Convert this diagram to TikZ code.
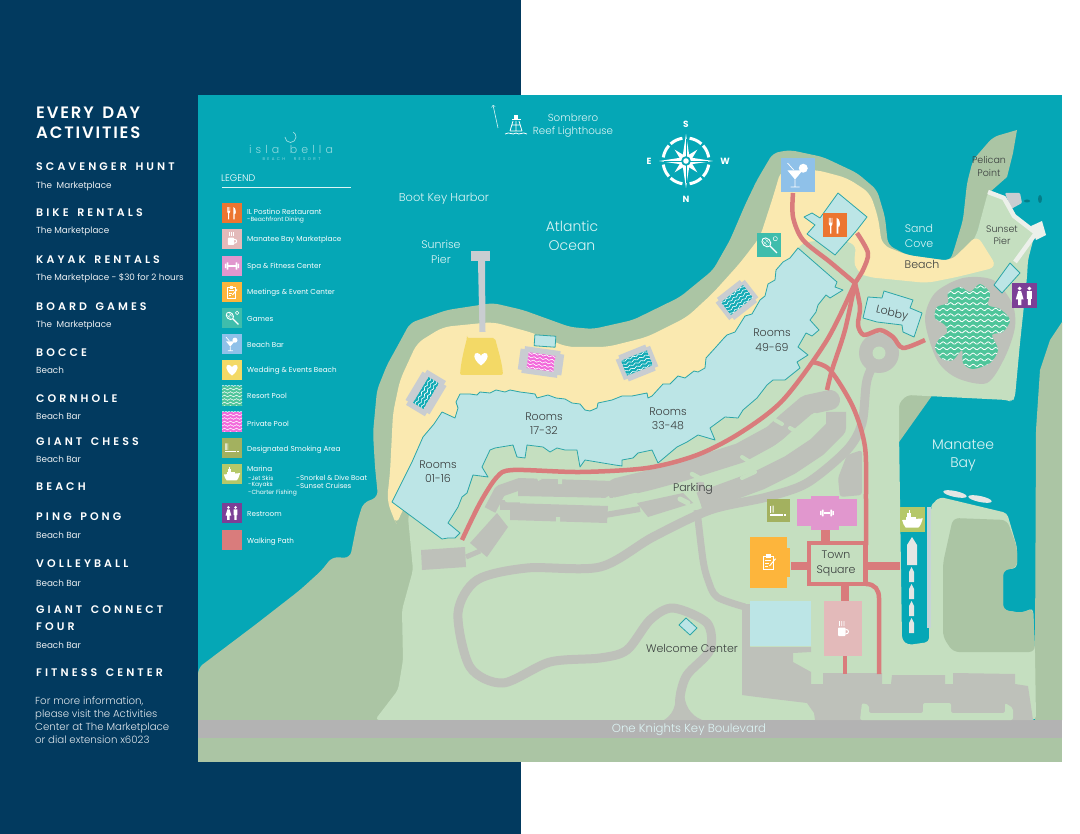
\documentclass[tikz,border=0pt]{standalone}
\usepackage{fontspec}
\setmainfont{Poppins}
\newfontfamily\lightfont{Poppins Light}
\newfontfamily\boldhead[LetterSpace=28,WordSpace=1.5]{Poppins SemiBold}
\newfontfamily\titlehead[LetterSpace=11,WordSpace=1.5]{Poppins SemiBold}
\newfontfamily\logofont[LetterSpace=37,WordSpace=1.5]{Poppins Light}
\newfontfamily\logosubfont[LetterSpace=60,WordSpace=2.5]{Poppins}
\definecolor{navy}{HTML}{023A5F}
\definecolor{water}{HTML}{05A7B6}
\definecolor{darkland}{HTML}{ABC5A4}
\definecolor{lightland}{HTML}{C5DFC0}
\definecolor{sand}{HTML}{FAE9B0}
\definecolor{roof}{HTML}{BCE5E6}
\definecolor{roofline}{HTML}{2CA6A8}
\definecolor{walkway}{HTML}{D97C7C}
\definecolor{asphalt}{HTML}{BEC1BA}
\definecolor{boulevard}{HTML}{B3B3B3}
\definecolor{labeldark}{HTML}{3A3E3E}
\definecolor{labelwater}{HTML}{DDF5F5}
\definecolor{restorange}{HTML}{EC7530}
\definecolor{cafepink}{HTML}{E3BABA}
\definecolor{spapink}{HTML}{E197CE}
\definecolor{meetgold}{HTML}{FDB53C}
\definecolor{gamesteal}{HTML}{3FBDAC}
\definecolor{barblue}{HTML}{8FC1E9}
\definecolor{beachyellow}{HTML}{F3D966}
\definecolor{poolgreen}{HTML}{4FC59A}
\definecolor{poolpink}{HTML}{F26ADB}
\definecolor{poolteal}{HTML}{12ABB5}
\definecolor{smokeolive}{HTML}{A3B15F}
\definecolor{marinaolive}{HTML}{B5C869}
\definecolor{restpurple}{HTML}{7C3F96}
\definecolor{pier}{HTML}{C9CDD1}
\definecolor{pierwhite}{HTML}{ECF0EA}
\definecolor{boatgrey}{HTML}{E4E6E4}
\tikzset{
	maplabel/.style={font=\lightfont\fontsize{11}{14.5}\selectfont,text=labeldark,align=center,inner sep=0pt},
	sealabel/.style={font=\lightfont\fontsize{11}{15}\selectfont,text=labelwater,align=center,inner sep=0pt},
	biglabel/.style={font=\lightfont\fontsize{14}{18.5}\selectfont,text=labelwater,align=center,inner sep=0pt},
	legendtext/.style={font=\fontsize{7.2}{8}\selectfont,text=white,anchor=west,inner sep=0pt},
	legendsub/.style={font=\fontsize{6}{7}\selectfont,text=white,anchor=west,inner sep=0pt},
	acthead/.style={font=\boldhead\fontsize{11}{17}\selectfont,text=white,anchor=west,inner sep=0pt},
	actsub/.style={font=\fontsize{8.8}{10}\selectfont,text=white!92!navy,anchor=west,inner sep=0pt},
	compasslabel/.style={font=\bfseries\fontsize{9}{10}\selectfont,text=white,inner sep=0pt},
	iconbox/.style={minimum size=20pt,inner sep=0pt,outer sep=0pt},
	bigbox/.style={minimum size=34pt,inner sep=0pt,outer sep=0pt},
	midbox/.style={minimum size=24pt,inner sep=0pt,outer sep=0pt},
	building/.style={fill=roof,draw=roofline,line width=0.8pt,line join=round},
	walkline/.style={draw=walkway,line width=4.5pt,line join=round},
	road/.style={draw=asphalt,line width=9pt,line join=round},
	forkicon/.pic={
		\fill[white] (-5.5,-7) rectangle (-4.9,-2) (-4.2,-7) rectangle (-3.6,-2) (-2.9,-7) rectangle (-2.3,-2);
		\fill[white] (-5.5,-2.5) -- (-2.3,-2.5) -- (-2.3,-1) -- (-3.3,0.5) -- (-3.3,7.5) -- (-4.5,7.5) -- (-4.5,0.5) -- (-5.5,-1) -- cycle;
		\fill[white] (1.5,-7) .. controls (4.5,-6) and (5,-1) .. (4,1) -- (3,1) -- (3,7.5) -- (1.5,7.5) -- cycle;
	},
	cupicon/.pic={
		\fill[white,rounded corners=0.8] (-5,-1.5) rectangle (2.5,7);
		\draw[white,line width=1pt] (2.5,0.5) .. controls (6.5,0) and (6.5,5) .. (2.5,5);
		\foreach \xx in {-3.5,-1.2,1}
			\draw[white,line width=0.7pt] (\xx,-3) .. controls (\xx-1,-5) and (\xx+1,-6) .. (\xx,-8);
	},
	dumbbellicon/.pic={
		\fill[white,rounded corners=0.4] (-8,-2.5) rectangle (-6.6,2.5) (-6,-4) rectangle (-4,4) (4,-4) rectangle (6,4) (6.6,-2.5) rectangle (8,2.5);
		\fill[white] (-4,-0.8) rectangle (4,0.8);
	},
	clipboardicon/.pic={
		\draw[white,line width=0.7pt] (-5,-5) rectangle (4,7);
		\fill[white] (-2.5,-7) rectangle (1.5,-4);
		\draw[white,line width=0.5pt] (-3.5,-1.5) -- (2,-1.5) (-3.5,1) -- (0,1) (-3.5,3.5) -- (-1,3.5);
		\draw[white,line width=1pt] (0.5,3.5) -- (6,-3);
	},
	racketicon/.pic={
		\draw[white,line width=0.9pt,rotate around={-45:(-2.5,-2.5)}] (-2.5,-2.5) ellipse (4.8 and 3.7);
		\draw[white,line width=0.3pt] (-5.5,-3.5) -- (-1.5,0.5) (-3.5,-5.5) -- (0.5,-1.5) (-5,-0.5) -- (-0.5,-5);
		\draw[white,line width=1.1pt] (1,1) -- (7.5,7.5);
		\draw[white,line width=0.5pt] (6,-6) circle (2);
	},
	martiniicon/.pic={
		\fill[white] (-7,-3) -- (3,-3) -- (-2,3) -- cycle;
		\draw[white,line width=0.7pt] (-2,3) -- (-2,8) (-5,8) -- (1,8) (-7,-8) -- (-3,-3.5);
		\fill[white] (3.5,-4.5) circle (3);
	},
	hearticon/.pic={
		\fill[white] (0,6.5) .. controls (-9,0) and (-7.5,-7) .. (-3.5,-6) .. controls (-1.5,-5.5) and (0,-4) .. (0,-3) .. controls (0,-4) and (1.5,-5.5) .. (3.5,-6) .. controls (7.5,-7) and (9,0) .. (0,6.5);
	},
	smokeicon/.pic={
		\fill[white] (-8,3) rectangle (4.5,5);
		\fill[white] (5.5,3) rectangle (8,5);
		\foreach \xx in {-7.5,-6,-4.5}
			\draw[white,line width=0.5pt] (\xx,2) .. controls (\xx-1,0) and (\xx+1,-2) .. (\xx,-5);
	},
	shipicon/.pic={
		\fill[white] (-9,0.5) -- (9,-1) .. controls (8,2) and (7,6) .. (5,7) -- (-6,7) .. controls (-7.5,5) and (-8.5,3) .. (-9,0.5) -- cycle;
		\fill[white] (-6,-2.5) rectangle (3,1);
		\fill[white] (-4.5,-5.5) rectangle (-1,-2.5);
		\fill[white] (-3.2,-8) rectangle (-2.2,-5.5);
	},
	restroomicon/.pic={
		\fill[white] (-4.2,-6.5) circle (1.7) (4.2,-6.5) circle (1.7);
		\fill[white] (-5.5,-4.2) -- (-2.9,-4.2) -- (-0.8,3) -- (-2.8,3) -- (-2.8,8) -- (-5.6,8) -- (-5.6,3) -- (-7.6,3) -- cycle;
		\fill[white] (2,-4.2) rectangle (6.4,2.5) (2.9,2.5) rectangle (5.5,8);
	},
}
\newcommand{\wavefill}[6]{
	\begin{scope}[shift={(#1,#2)},rotate=#3]
		\clip (-#4/2,-#5/2) rectangle (#4/2,#5/2);
		\fill[#6] (-#4/2,-#5/2) rectangle (#4/2,#5/2);
		\foreach \yy in {-17.5,-14,...,17.5}
			\draw[white,line width=0.6pt] plot[smooth,domain=-24:24,samples=33] (\x,{\yy+0.8*sin(\x*60)});
	\end{scope}
}
\newcommand{\poolpad}[5]{
	\begin{scope}[shift={(#1,#2)},rotate=#3]
		\fill[color=pier] (-#4/2,-#5/2+3) rectangle (#4/2,#5/2-3);
		\fill[color=pier] (-#4/2+4,-#5/2) rectangle (#4/2-4,#5/2);
	\end{scope}
}
\begin{document}
\begin{tikzpicture}[x=1pt,y=-1pt]
	\useasboundingbox (0,0) rectangle (1080,834);
	\fill[color=white] (0,0) rectangle (1080,834);
	\fill[color=navy] (0,0) rectangle (521,834);
	\fill[color=water] (198,95) rectangle (1062,762);

	\fill[color=darkland,rounded corners=6pt] (198,722) -- (198,668) -- (255,625) -- (300,590) -- (322,570) -- (332,557) -- (350,558) -- (357,523) -- (363,503) -- (378,497) -- (375,467) -- (373,433) -- (377,390) -- (387,365) -- (397,347) -- (410,323) -- (447,310) -- (493,303) -- (523,310) -- (570,327) -- (593,329) -- (633,320) -- (680,297) -- (713,270) -- (730,240) -- (745,205) -- (757,180) -- (773,153) -- (790,150) -- (823,157) -- (857,173) -- (877,190) -- (885,217) -- (888,245) -- (907,255) -- (950,261) -- (953,253) -- (963,220) -- (967,183) -- (973,160) -- (993,137) [sharp corners] -- (1017,130) -- (1013,153) -- (1007,177) -- (990,192) -- (977,233) -- (1000,300) -- (700,722) -- cycle;
	\fill[color=darkland] (1062,322) -- (1050,340) -- (1040,370) -- (1036,430) -- (1035,652) -- (1035,720) -- (1062,720) -- cycle;
	\fill[color=lightland,rounded corners=4pt] (408,517) -- (413,570) -- (402,610) -- (403,660) -- (398,690) -- (375,720) -- (1036,720) -- (1035,652) -- (1033,608) -- (1022,613) -- (1003,610) -- (1003,570) -- (1017,568) -- (1017,547) -- (1007,513) -- (940,497) -- (933,503) -- (931,507) -- (929,642) -- (908,645) -- (902,640) -- (899,430) -- (899,403) -- (907,395) -- (1007,400) -- (1012,402) -- (1015,397) -- (1020,343) -- (1027,277) -- (1028,260) -- (1035,233) -- (1013,217) -- (1003,198) -- (988,192) -- (977,233) -- (962,262) -- (930,270) -- (880,265) -- (850,230) -- (795,230) -- (760,290) -- (690,370) -- (600,405) -- (480,405) -- (430,460) -- cycle;
	\fill[color=darkland,rounded corners=6pt] (953,518) -- (1007,520) -- (1017,547) -- (1017,568) -- (1003,570) -- (1003,610) -- (1022,613) -- (1033,608) -- (1035,652) -- (953,652) -- (943,637) -- (943,563) -- cycle;
	\fill[color=sand,rounded corners=8pt] (387,500) -- (390,473) -- (393,413) -- (400,380) -- (417,343) -- (443,327) -- (493,322) -- (533,333) -- (567,347) -- (607,347) -- (647,337) -- (687,317) -- (713,293) -- (740,263) -- (760,237) -- (773,197) -- (781,170) -- (817,170) -- (847,178) -- (870,193) -- (878,217) -- (882,245) -- (907,255) -- (950,261) -- (957,255) -- (977,235) -- (997,267) -- (957,277) -- (927,283) -- (897,280) -- (867,277) -- (857,272) -- (853,258) -- (858,246) -- (838,238) -- (800,243) -- (780,290) -- (700,380) -- (600,420) -- (480,420) -- (440,470) -- (402,510) -- (397,525) -- (393,517) -- cycle;

	\fill[color=boulevard] (198,720) rectangle (1062,738);
	\fill[color=darkland] (198,738) rectangle (1062,762);

	\fill[color=asphalt] plot[smooth cycle] coordinates {(925,320) (935,293) (963,278) (993,280) (1012,303) (1015,327) (1005,357) (987,383) (957,378) (937,360)};
	\begin{scope}
		\clip plot[smooth cycle] coordinates {(948,293) (960,287) (970,292) (980,284) (990,293) (988,305) (1000,309) (1010,320) (1003,332) (992,335) (998,350) (990,363) (973,369) (963,363) (962,350) (953,360) (942,359) (935,348) (940,338) (947,333) (945,325) (935,318) (937,307) (948,303)};
		\fill[color=poolgreen] (920,280) rectangle (1020,375);
		\foreach \yy in {287,292.6,...,370}
			\draw[white,line width=0.8pt] plot[smooth,domain=925:1015,samples=61] (\x,{\yy+1.2*sin((\x-900)*48)});
	\end{scope}

	\fill[color=asphalt] (879,353) circle (20);
	\path[road] plot[smooth] coordinates {(879,353) (867,380) (862,423) (847,450) (807,483) (767,497) (710,510) (653,537) (600,567) (527,568) (477,580) (458,613) (470,667) (503,683) (550,662) (600,658) (627,650) (650,620) (673,608) (707,623) (710,650) (687,675) (680,697) (680,718)};
	\fill[color=lightland] (879,353) circle (6.5);
	\fill[color=asphalt] (664,720) .. controls (677,712) and (675,700) .. (677,690) -- (684,690) .. controls (684,705) and (690,715) .. (702,720) -- cycle;
	\path[road,line width=7pt] plot[smooth] coordinates {(697,510) (703,560) (708,580) (717,597) (745,607)};

	\path[road,line width=20pt,line cap=round] (617,488) -- (650,480) -- (683,471) -- (740,453) -- (773,435) -- (787,422) -- (807,405) -- (830,400);
	\path[road,line width=20pt] (700,502) -- (760,480) -- (790,465) -- (817,447) -- (836,428) -- (836,412);
	\path[road,line width=7pt] (700,482) -- (707,515);
	\path[road,line width=12pt] (490,510) -- (500,491) -- (520,484);
	\path[road,line width=6pt] (605,515) -- (640,509);
	\fill[color=asphalt] (518,478) -- (613,481) -- (613,498) -- (518,496) -- cycle;
	\fill[color=asphalt] (510,503) -- (608,506) -- (607,523) -- (510,520) -- cycle;
	\fill[color=asphalt] (500,500) rectangle (520,510);
	\fill[color=asphalt] (637,503) -- (683,493) -- (693,503) -- (648,517) -- cycle;
	\fill[color=asphalt] (470,543) -- (497,513) -- (508,527) -- (487,557) -- cycle;
	\fill[color=asphalt] (421,550) -- (465,547) -- (466,567) -- (422,570) -- cycle;
	\path[road,line width=5pt] (466,557) -- (480,551);
	\fill[color=asphalt,rounded corners=3pt] (838,478) -- (840,497) -- (862,495) -- (862,450) -- (847,455) -- cycle;
	\draw[color=lightland,line width=4.5pt,line cap=round] (507,500) -- (610,501) -- (636,495);
	\draw[color=lightland,line width=4pt] (560,478) -- (560,484) (558,517) -- (558,524) (538,476) -- (540,480) (607,497) -- (611,504);
	\draw[color=lightland,line width=4.5pt,line cap=round,line join=round] (692,474) -- (703,480) -- (745,467) -- (763,457) -- (790,437) -- (815,415);
	\draw[color=lightland,line width=4pt,line cap=round] (790,428) -- (808,438) (742,457) -- (750,462) (775,420) -- (782,424) (742,478) -- (755,472);
	\draw[color=lightland,line width=5pt,line cap=round] (688,503) -- (680,499);

	\fill[color=asphalt] (742,604) -- (750,604) -- (750,647) -- (811,647) -- (811,652) -- (793,653) -- (793,662) -- (811,672) -- (811,684) -- (823,684) -- (823,673) -- (882,673) -- (882,684) -- (891,684) -- (892,675) -- (945,675) -- (945,684) -- (953,684) -- (953,673) -- (1015,674) -- (1015,684) -- (1028,686) -- (1033,720) -- (815,720) -- (814,713) -- (807,703) -- (757,697) -- (742,695) -- cycle;
	\fill[color=lightland,rounded corners=2pt] (860,720) -- (862,703) -- (869,705) -- (869,713) -- (923,713) -- (923,703) -- (951,703) -- (951,713) -- (1005,713) -- (1005,703) -- (1013,708) -- (1013,720) -- cycle;

	\fill[color=pier] (471,251) rectangle (490,261);
	\fill[color=pier] (478,261) -- (485,261) -- (485.5,332) -- (479.5,332) -- cycle;
	\fill[color=beachyellow,rounded corners=2pt] (467,338) -- (495,338) .. controls (498,350) and (502,362) .. (503,375) -- (460,375) .. controls (461,362) and (464,350) .. (467,338) -- cycle;
	\path (481,359) pic[scale=1] {hearticon};

	\poolpad{426}{393}{59}{41}{28}
	\wavefill{426}{393}{59}{30}{12}{poolteal}
	\poolpad{541}{362}{-8}{44}{27}
	\wavefill{541}{362}{-8}{27}{16}{poolpink}
	\poolpad{637}{363}{22}{37}{28}
	\wavefill{637}{363}{22}{28}{16}{poolteal}
	\poolpad{737}{300}{38}{37}{28}
	\wavefill{737}{300}{38}{28}{16}{poolteal}
	\draw[building,rotate around={-4:(545,341)}] (534.5,335.5) rectangle (555.5,346.5);

	\draw[building] (392,502) -- (400,486) -- (412,462) -- (423,437) -- (434,424) -- (442,412) -- (455,418) -- (458,408) -- (456,402) -- (460,394) -- (470,394) -- (477,395) -- (480,392) -- (490,393) -- (496,390) -- (505,392) -- (510,390) -- (520,392) -- (528,393) -- (535,394) -- (537,398) -- (548,395) -- (556,398) -- (565,399) -- (572,403) -- (580,404) -- (585,410) -- (590,411) -- (597,408) -- (598,403) -- (612,400) -- (622,396) -- (632,396) -- (647,393) -- (648,398) -- (652,396) -- (663,384) -- (670,384) -- (678,376) -- (685,378) -- (694,371) -- (698,372) -- (705,368) -- (706,358) -- (716,347) -- (724,338) -- (727,335) -- (735,332) -- (745,316) -- (752,314) -- (760,300) -- (765,296) -- (768,284) -- (775,280) -- (776,270) -- (783,262) -- (790,258) -- (798,248) -- (837,282) -- (835,287) -- (843,290) -- (830,298) -- (826,295) -- (818,305) -- (816,312) -- (810,320) -- (819,330) -- (812,336) -- (806,333) -- (798,347) -- (808,355) -- (797,362) -- (800,368) -- (785,380) -- (773,380) -- (767,385) -- (757,398) -- (743,410) -- (738,418) -- (725,417) -- (710,428) -- (715,440) -- (698,435) -- (687,442) -- (677,447) -- (658,463) -- (652,450) -- (638,453) -- (633,458) -- (622,460) -- (622,466) -- (615,465) -- (585,460) -- (580,467) -- (577,450) -- (565,450) -- (557,448) -- (550,452) -- (543,447) -- (527,445) -- (525,458) -- (517,457) -- (513,445) -- (495,448) -- (490,450) -- (482,467) -- (488,477) -- (473,475) -- (467,493) -- (462,497) -- (458,507) -- (448,523) -- (460,533) -- (455,538) -- (448,538) -- (442,539) -- cycle;
	\draw[building] (838,193) -- (867,217) -- (857,230) -- (835,255) -- (807,234) -- (815,225) -- (804,217) -- (812,213) -- (820,218) -- cycle;
	\draw[building] (863,318) -- (868,297) -- (882,298) -- (884,291) -- (913,300) -- (910,308) -- (922,313) -- (914,337) -- (903,332) -- (902,325) -- (877,322) -- cycle;
	\draw[building] (679,625) -- (686,618) -- (697,628) -- (690,635) -- cycle;

	\fill[color=pier,rounded corners=1pt] (1005,193) -- (1020,193) -- (1022,203) -- (1011,209) -- cycle;
	\draw[color=pierwhite,line width=4.5pt,line join=round] (988,192) -- (1004,198) -- (1014,216) -- (1036,233) -- (1015,262);
	\fill[color=pierwhite] (1031,226) -- (1042,221) -- (1046,235) -- (1036,240) -- cycle;
	\fill[color=water!75!black] (1027,201) ellipse (3 and 1.5) (1040,199) ellipse (2 and 4);
	\draw[building] (1010,263) -- (1020,273) -- (1002,293) -- (994,285) -- cycle;

	\path[walkline] plot[smooth] coordinates {(462,540) (480,503) (497,477) (513,470) (580,472) (647,468) (697,455) (740,433) (783,400) (827,340) (855,283)};
	\path[walkline] plot[smooth] coordinates {(793,193) (793,217) (803,240) (830,262) (855,283)};
	\path[walkline] plot[smooth] coordinates {(857,233) (868,253) (863,270) (855,283)};
	\path[walkline] plot[smooth] coordinates {(855,283) (845,330) (832,370) (827,390)};
	\path[walkline] plot[smooth] coordinates {(855,283) (860,307) (858,325) (864,335) (880,330) (893,337) (903,348) (925,340)};
	\path[walkline] plot[smooth] coordinates {(812,362) (830,370) (853,407) (865,447) (866,500) (866,545)};
	\fill[color=walkway] (791,562) rectangle (807,570);
	\fill[color=walkway] (867,562) rectangle (900,570);
	\fill[color=walkway] (821,530) rectangle (830,541);
	\fill[color=walkway] (841,586) rectangle (849,601);
	\fill[color=walkway] (843,656) rectangle (847,674);
	\draw[color=walkway,line width=4.5pt] (866,584) .. controls (875,584) and (879,590) .. (879,598) -- (879,674);
	\fill[color=walkway] (807,541) rectangle (868,586);
	\fill[color=lightland] (811,545) rectangle (863,582);

	\fill[color=spapink] (797,499) rectangle (857,526);
	\fill[color=spapink] (811,496) rectangle (839,530);
	\fill[color=meetgold] (750,537) rectangle (787,588);
	\fill[color=meetgold] (787,548) rectangle (790,577);
	\fill[color=cafepink] (824,601) rectangle (862,656);
	\fill[color=roof] (750,601) rectangle (811,646);

	\fill[color=pier!70!roof] (927,507) rectangle (931,628);
	\fill[color=boatgrey] (907,565) -- (907,545) -- (912,537) -- (917,545) -- (917,565) -- cycle;
	\foreach \yy in {567,584,601,618}
		\fill[color=boatgrey] (909,\yy+15) -- (909,\yy+5) -- (911.5,\yy) -- (914,\yy+5) -- (914,\yy+15) -- cycle;
	\fill[color=boatgrey,rotate around={-12:(955,494)}] (955,494) ellipse (12 and 3);
	\fill[color=boatgrey,rotate around={-12:(980,499)}] (980,499) ellipse (12 and 3);

	\path (798,175) node[bigbox,fill=barblue] (barsign) {};
	\path (barsign) pic[scale=1.5] {martiniicon};
	\path (835,225.5) node[midbox,fill=restorange] (postinosign) {};
	\path (postinosign) pic[scale=1.1] {forkicon};
	\path (769,245) node[midbox,fill=gamesteal] (gamessign) {};
	\path (gamessign) pic[scale=1.05] {racketicon};
	\path (1024.5,296) node[midbox,minimum size=25pt,fill=restpurple] (restroomsign) {};
	\path (restroomsign) pic[scale=1.15] {restroomicon};
	\path (778,510.5) node[iconbox,minimum size=23pt,fill=smokeolive] (smokesign) {};
	\path (smokesign) pic[scale=1] {smokeicon};
	\path (912.5,519.5) node[midbox,minimum size=25pt,fill=marinaolive] (marinasign) {};
	\path (marinasign) pic[scale=1.15] {shipicon};
	\path (827,513) pic[scale=0.85] {dumbbellicon};
	\path (769,562) pic[scale=1.1] {clipboardicon};
	\path (843,629) pic[scale=1] {cupicon};

	\path (444,199) node[sealabel,font=\lightfont\fontsize{11.4}{13}\selectfont] (bootkey) {Boot Key Harbor};
	\path (572,236) node[biglabel] (atlantic) {Atlantic\\Ocean};
	\path (441,252) node[sealabel] (sunrise) {Sunrise\\Pier};
	\path (573,125.5) node[sealabel,font=\lightfont\fontsize{10.3}{13.3}\selectfont] (sombrero) {Sombrero\\Reef Lighthouse};
	\path (919,235.5) node[sealabel] (sandcove) {Sand\\Cove};
	\path (963,455.5) node[biglabel] (manatee) {Manatee\\Bay};
	\path (689,730) node[sealabel,font=\lightfont\fontsize{11.7}{13}\selectfont] (boulevardname) {One Knights Key Boulevard};
	\path (922,264) node[maplabel] (beachname) {Beach};
	\path (989,166.5) node[maplabel,font=\lightfont\fontsize{9.5}{13}\selectfont] (pelican) {Pelican\\Point};
	\path (1002,235) node[maplabel,font=\lightfont\fontsize{9.5}{12.5}\selectfont] (sunset) {Sunset\\Pier};
	\path (892,314) node[maplabel,rotate=-13] (lobby) {Lobby};
	\path (772,340) node[maplabel] (rooms49) {Rooms\\49-69};
	\path (668,419) node[maplabel] (rooms33) {Rooms\\33-48};
	\path (544,423.5) node[maplabel] (rooms17) {Rooms\\17-32};
	\path (438,471.5) node[maplabel] (rooms01) {Rooms\\01-16};
	\path (693,489) node[maplabel] (parking) {Parking};
	\path (692,648) node[maplabel] (welcome) {Welcome Center};
	\path (836,563.5) node[maplabel] (townsquare) {Town\\Square};

	\coordinate (reefbase) at (498,128);
	\coordinate (reeftip) at (493,105);
	\draw[color=labelwater,line width=0.6pt,->] (reefbase) -- (reeftip);
	\begin{scope}[shift={(516,125)}]
		\fill[white] (-2,-10) rectangle (2,-6);
		\fill[white] (-4.5,-6) rectangle (4.5,-4.5);
		\draw[white,line width=0.8pt] (-3,-4) -- (-6,6) (3,-4) -- (6,6) (0,-4) -- (0,6) (-4,0) -- (4,0) (-6,6) -- (6,6);
		\draw[white,line width=0.8pt] (-11,9) .. controls (-6,6) and (-4,11) .. (0,8) .. controls (4,11) and (6,6) .. (11,9);
	\end{scope}

	\begin{scope}[shift={(686,161)}]
		\foreach \aa in {0,90,180,270}
			\draw[white,line width=3pt] (\aa+9:23) arc[start angle=\aa+9,end angle=\aa+42,radius=23] (\aa+48:23) arc[start angle=\aa+48,end angle=\aa+81,radius=23];
		\fill[white] (0:27) -- (45:5) -- (90:27) -- (135:5) -- (180:27) -- (225:5) -- (270:27) -- (315:5) -- cycle;
		\fill[white] (45:16) -- (90:4.5) -- (135:16) -- (180:4.5) -- (225:16) -- (270:4.5) -- (315:16) -- (0:4.5) -- cycle;
		\draw[color=water,line width=0.35pt] (0,0) -- (0:22) (0,0) -- (90:22) (0,0) -- (180:22) (0,0) -- (270:22);
		\fill[color=water] (0,0) circle (4.8);
		\fill[white] (0,0) circle (2.8);
	\end{scope}
	\path (686,124) node[compasslabel] (compassS) {S};
	\path (686,199) node[compasslabel] (compassN) {N};
	\path (649,161) node[compasslabel] (compassE) {E};
	\path (725,161) node[compasslabel] (compassW) {W};

	\draw[color=labelwater!70!water,line width=0.7pt] (285,137) arc[start angle=180,end angle=-60,radius=5.5];
	\path (291,149) node[inner sep=0pt,font=\logofont\fontsize{11}{12}\selectfont,text=labelwater!65!water] (logoname) {isla bella};
	\path (291.5,159) node[inner sep=0pt,font=\logosubfont\fontsize{4}{5}\selectfont,text=labelwater!65!water] (logosub) {BEACH RESORT};

	\path (221,178) node[anchor=west,inner sep=0pt,font=\lightfont\fontsize{9.5}{11}\selectfont,text=white] (legendtitle) {LEGEND};
	\draw[color=labelwater,line width=0.8pt] (222,187) -- (351,187);

	\path (232,213) node[iconbox,fill=restorange] (legfork) {};
	\path (legfork) pic[scale=0.85] {forkicon};
	\path (232,239) node[iconbox,fill=cafepink] (legcup) {};
	\path (legcup) pic[scale=0.85] {cupicon};
	\path (232,266) node[iconbox,fill=spapink] (legspa) {};
	\path (legspa) pic[scale=0.9] {dumbbellicon};
	\path (232,292) node[iconbox,fill=meetgold] (legmeet) {};
	\path (legmeet) pic[scale=0.85] {clipboardicon};
	\path (232,318) node[iconbox,fill=gamesteal] (leggames) {};
	\path (leggames) pic[scale=0.85] {racketicon};
	\path (232,344) node[iconbox,fill=barblue] (legbar) {};
	\path (legbar) pic[scale=0.85] {martiniicon};
	\path (232,370) node[iconbox,fill=beachyellow] (legheart) {};
	\path (legheart) pic[scale=0.85] {hearticon};
	\wavefill{232}{396}{0}{20}{20}{poolgreen}
	\wavefill{232}{422}{0}{20}{20}{poolpink}
	\path (232,448) node[iconbox,fill=smokeolive] (legsmoke) {};
	\path (legsmoke) pic[scale=0.9] {smokeicon};
	\path (232,474) node[iconbox,fill=marinaolive] (legmarina) {};
	\path (legmarina) pic[scale=0.9] {shipicon};
	\path (232,513) node[iconbox,fill=restpurple] (legrest) {};
	\path (legrest) pic[scale=0.85] {restroomicon};
	\path (232,540) node[iconbox,fill=walkway] (legwalk) {};

	\path (247,211.5) node[legendtext] (txtpostino) {IL Postino Restaurant};
	\path (247,220) node[legendsub] (txtbeachfront) {-Beachfront Dining};
	\foreach \yy/\lab in {239.5/Manatee Bay Marketplace,266.5/Spa \& Fitness Center,292.5/Meetings \& Event Center,318.5/Games,344.5/Beach Bar,370.5/Wedding \& Events Beach,396/Resort Pool,423.5/Private Pool,450/Designated Smoking Area,469/Marina,514.5/Restroom,541.5/Walking Path}
		\path (247,\yy) node[legendtext] (txt\yy) {\lab};
	\foreach \xx/\yy/\lab in {248/478/-Jet Skis,248/485.5/-Kayaks,248/493/-Charter Fishing}
		\path (\xx,\yy) node[legendsub] (sub\xx-\yy) {\lab};
	\foreach \xx/\yy/\lab in {296/478/-Snorkel \& Dive Boat,296/485.5/-Sunset Cruises}
		\path (\xx,\yy) node[legendsub,font=\fontsize{7}{8}\selectfont] (sub\xx-\yy) {\lab};

	\path (36,123) node[anchor=west,inner sep=0pt,align=left,font=\titlehead\fontsize{16.5}{20}\selectfont,text=white] (daytitle) {EVERY DAY\\ACTIVITIES};
	\foreach \yy/\lab in {167/SCAVENGER HUNT,213/BIKE RENTALS,260/KAYAK RENTALS,307/BOARD GAMES,353/BOCCE,399/CORNHOLE,442/GIANT CHESS,487/BEACH,517/PING PONG,564/VOLLEYBALL,610/GIANT CONNECT,627/FOUR,673/FITNESS CENTER}
		\path (36,\yy) node[acthead] (head\yy) {\lab};
	\foreach \yy/\lab in {186/The\ \ Marketplace,231/The Marketplace,278/The Marketplace - \$30 for 2 hours,325/The\ \ Marketplace,370/Beach,416/Beach Bar,459/Beach Bar,535/Beach Bar,583/Beach Bar,645/Beach Bar}
		\path (36,\yy) node[actsub] (where\yy) {\lab};
	\path (35,720.5) node[anchor=west,inner sep=0pt,align=left,font=\lightfont\fontsize{10.2}{13}\selectfont,text=white!88!navy] (moreinfo) {For more information,\\please visit the Activities\\Center at The Marketplace\\or dial extension x6023};
\end{tikzpicture}
\end{document}
